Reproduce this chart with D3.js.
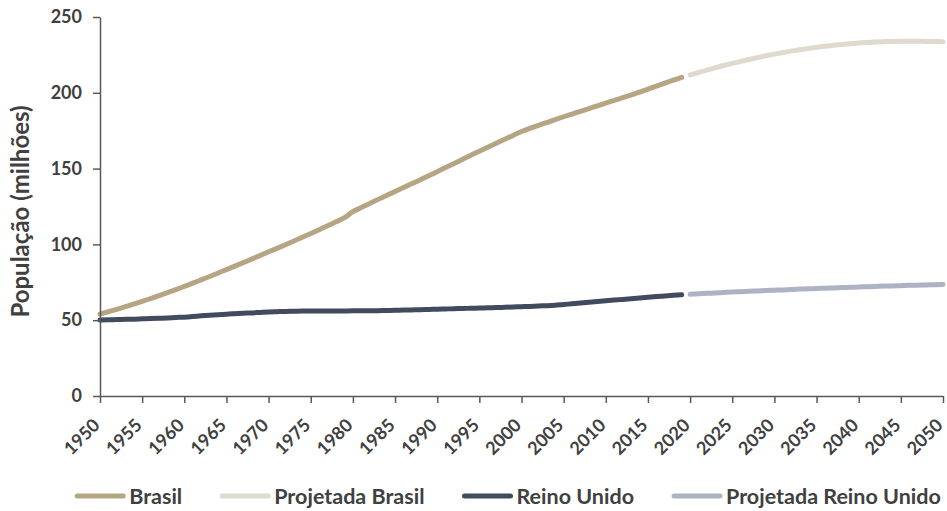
<!DOCTYPE html>
<html>
<head>
<meta charset="utf-8">
<script src="https://cdn.jsdelivr.net/npm/d3@7"></script>
<style>
  html, body { margin: 0; padding: 0; background: #fff; }
  svg { display: block; font-family: Lato, "Open Sans", sans-serif; }
</style>
</head>
<body>
<svg id="chart" width="947" height="511"></svg>
<script>
// População do Brasil e do Reino Unido, em milhões (1950–2019) e projeções (2020–2050)
const anosHistoricos = d3.range(1950, 2020);
const anosProjetados = d3.range(2020, 2051);

const brasil = [
  54.0, 55.6, 57.2, 58.9, 60.6, 62.4, 64.3, 66.2, 68.2, 70.2,
  72.3, 74.4, 76.6, 78.8, 81.1, 83.4, 85.7, 88.0, 90.3, 92.7,
  95.1, 97.4, 99.8, 102.2, 104.7, 107.2, 109.7, 112.3, 114.9, 117.6,
  121.6, 124.3, 127.0, 129.7, 132.3, 134.9, 137.5, 140.1, 142.6, 145.3,
  148.0, 150.7, 153.4, 156.1, 158.8, 161.5, 164.1, 166.7, 169.3, 171.9,
  174.5, 176.5, 178.5, 180.4, 182.3, 184.2, 186.0, 187.8, 189.6, 191.4,
  193.2, 195.0, 196.8, 198.6, 200.4, 202.4, 204.4, 206.4, 208.3, 210.2
];

const brasilProjetada = [
  211.8, 213.4, 215.0, 216.5, 218.0, 219.4, 220.7, 222.0, 223.2, 224.4,
  225.5, 226.5, 227.5, 228.4, 229.2, 230.0, 230.7, 231.3, 231.9, 232.4,
  232.8, 233.2, 233.5, 233.7, 233.9, 234.0, 234.0, 234.0, 233.9, 233.8,
  233.6
];

const reinoUnido = [
  50.1, 50.3, 50.4, 50.6, 50.7, 50.9, 51.1, 51.3, 51.5, 51.8,
  52.0, 52.4, 52.9, 53.3, 53.6, 54.0, 54.3, 54.6, 54.8, 55.1,
  55.4, 55.6, 55.8, 55.9, 56.0, 56.0, 56.0, 56.0, 56.0, 56.1,
  56.2, 56.2, 56.2, 56.3, 56.4, 56.5, 56.7, 56.8, 56.9, 57.1,
  57.2, 57.4, 57.6, 57.7, 57.9, 58.0, 58.2, 58.3, 58.5, 58.7,
  58.9, 59.1, 59.4, 59.6, 59.9, 60.4, 60.8, 61.3, 61.8, 62.3,
  62.8, 63.3, 63.7, 64.1, 64.6, 65.1, 65.6, 66.0, 66.4, 66.8
];

const reinoUnidoProjetada = [
  67.1, 67.4, 67.7, 68.0, 68.3, 68.6, 68.8, 69.1, 69.3, 69.6,
  69.8, 70.0, 70.3, 70.5, 70.7, 70.9, 71.1, 71.3, 71.5, 71.7,
  71.9, 72.1, 72.3, 72.5, 72.6, 72.8, 73.0, 73.1, 73.3, 73.4,
  73.6
];

const ticksAnos = d3.range(1950, 2051, 5);
const ticksPopulacao = [0, 50, 100, 150, 200, 250];

const series = [
  { nome: "Brasil", anos: anosHistoricos, valores: brasil, cor: "#b5a583" },
  { nome: "Projetada Brasil", anos: anosProjetados, valores: brasilProjetada, cor: "#dedace" },
  { nome: "Reino Unido", anos: anosHistoricos, valores: reinoUnido, cor: "#424a5e" },
  { nome: "Projetada Reino Unido", anos: anosProjetados, valores: reinoUnidoProjetada, cor: "#adb2c4" }
];

const svg = d3.select("#chart");
const margem = { left: 100, right: 4, top: 17, bottom: 115 };
const W = 947, H = 511;
const textoCor = "#404040";

const x = d3.scaleLinear().domain([1950, 2050]).range([margem.left, W - margem.right]);
const y = d3.scaleLinear().domain([0, 250]).range([H - margem.bottom, margem.top]);

// Linhas
const linha = d3.line().x(d => x(d[0])).y(d => y(d[1])).curve(d3.curveMonotoneX);
const g = svg.append("g");
series.forEach(s => {
  g.append("path")
    .datum(s.anos.map((a, i) => [a, s.valores[i]]))
    .attr("d", linha)
    .attr("fill", "none")
    .attr("stroke", s.cor)
    .attr("stroke-width", 5)
    .attr("stroke-linecap", "round")
    .attr("stroke-linejoin", "round");
});

// Eixo Y
const eixoY = svg.append("g")
  .attr("transform", `translate(${margem.left},0)`)
  .call(d3.axisLeft(y).tickValues(ticksPopulacao).tickSize(7).tickPadding(11).tickSizeOuter(0));
eixoY.select(".domain").attr("stroke", "#595959").attr("stroke-width", 1.5);
eixoY.selectAll(".tick line").attr("stroke", "#595959").attr("stroke-width", 1.5);
eixoY.selectAll(".tick text")
  .attr("fill", textoCor).style("font-size", "18px").style("font-weight", "bold")
  .style("font-family", "Lato, sans-serif");

// Eixo X
const eixoX = svg.append("g")
  .attr("transform", `translate(0,${H - margem.bottom})`)
  .call(d3.axisBottom(x).tickValues(ticksAnos).tickFormat(d3.format("d")).tickSize(7).tickSizeOuter(0));
eixoX.select(".domain").attr("stroke", "#595959").attr("stroke-width", 1.5);
eixoX.selectAll(".tick line").attr("stroke", "#595959").attr("stroke-width", 1.5);
eixoX.selectAll(".tick text")
  .attr("fill", textoCor).style("font-size", "18px").style("font-weight", "bold")
  .style("font-family", "Lato, sans-serif")
  .attr("text-anchor", "end")
  .attr("x", 0).attr("y", 0).attr("dy", "0.35em")
  .attr("transform", "translate(-4,26) rotate(-45)");

// Título do eixo Y
svg.append("text")
  .attr("transform", `translate(29,${(margem.top + H - margem.bottom) / 2 + 5}) rotate(-90)`)
  .attr("text-anchor", "middle")
  .attr("fill", textoCor)
  .style("font-size", "24px").style("font-weight", "bold")
  .text("População (milhões)");

// Legenda
const legenda = svg.append("g");
const larguraAmostra = 50, folga = 4, espaco = 38, yLegenda = 496;
const itens = legenda.selectAll("g").data(series).join("g");
itens.append("line")
  .attr("x1", 2).attr("x2", larguraAmostra - 2)
  .attr("y1", 0).attr("y2", 0)
  .attr("stroke", d => d.cor).attr("stroke-width", 5).attr("stroke-linecap", "round");
itens.append("text")
  .attr("x", larguraAmostra + folga).attr("dy", "0.36em")
  .attr("fill", textoCor)
  .style("font-size", "21.5px").style("font-weight", "bold")
  .text(d => d.nome);
let pos = 0;
const posicoes = [];
itens.each(function () {
  const w = this.querySelector("text").getComputedTextLength();
  posicoes.push(pos);
  pos += larguraAmostra + folga + w + espaco;
});
const total = pos - espaco;
const inicio = 508 - total / 2;
itens.attr("transform", (d, i) => `translate(${inicio + posicoes[i]},${yLegenda})`);
</script>
</body>
</html>
